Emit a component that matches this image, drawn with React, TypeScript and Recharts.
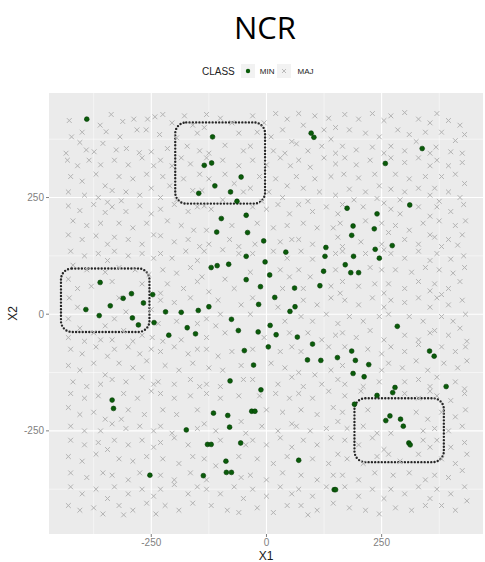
import React from 'react';
import {
  ScatterChart,
  Scatter,
  XAxis,
  YAxis,
  CartesianGrid,
  ReferenceArea,
} from 'recharts';

// ticks & grid
const X_TICKS = [-250, 0, 250];
const Y_TICKS = [-250, 0, 250];
const MINOR_BREAKS = [-375, -125, 125, 375];

// minority class (green dots), [X1, X2]
const MIN_POINTS: [number, number][] = [
  [-390, 418],
  [-117, 380], [-135, 319], [-119, 324], [-55, 294], [-112, 275], [-147, 259], [-78, 262], [-64, 242],
  [-98, 205], [-44, 212], [-108, 176], [-41, 175], [-44, 124], [-120, 100], [-107, 104], [-82, 107], [-44, 74],
  [-361, 68], [-293, 44], [-311, 34], [-247, 42],
  [97, 388], [103, 379], [338, 355], [258, 323], [311, 234], [175, 227], [240, 215], [188, 189], [234, 183], [185, 169],
  [-6, 157], [273, 147], [129, 143], [236, 139], [42, 133], [127, 124], [189, 124], [245, 120], [-3, 112], [171, 106],
  [183, 89], [200, 89], [124, 92], [7, 84], [-13, 59], [61, 56], [116, 61], [18, 36],
  [-392, 10], [-339, 18], [-267, 24], [-363, -3], [-291, -8], [-278, -23], [-244, -18], [-219, 5], [-185, 4], [-148, 8], [-125, 16],
  [-212, -45], [-172, -29], [-154, -42], [-76, -11], [-61, -35], [-48, -78], [-79, -143],
  [-335, -184], [-332, -202], [-115, -212], [-84, -217], [-80, -242], [-174, -248], [-128, -279], [-120, -279], [-56, -276],
  [-88, -315], [-87, -339], [-76, -339], [-137, -346], [-253, -345],
  [-17, 21], [62, 16], [51, 6], [8, -24], [284, -26], [-18, -38], [21, -44], [67, -49], [4, -70], [100, -64],
  [185, -79], [354, -79], [364, -90], [-28, -109], [89, -98], [118, -99], [154, -93], [193, -99], [222, -108],
  [188, -127], [212, -134], [-12, -162], [390, -155], [279, -157], [274, -168], [240, -174], [191, -193],
  [-32, -208], [-25, -208], [259, -228], [268, -218], [291, -225], [297, -240], [309, -276], [312, -280],
  [70, -313], [147, -376], [150, -376],
];

// majority class (grey crosses), [X1, X2]
const MAJ_POINTS: [number, number][] = [
  // y 340..435
  [-428, 415], [-400, 390], [-423, 380], [-405, 368], [-391, 352], [-374, 348], [-361, 405], [-348, 391], [-355, 366], [-435, 345],
  [-337, 428], [-312, 413], [-288, 418], [-258, 418], [-242, 423], [-281, 395], [-261, 395], [-326, 352], [-304, 355], [-276, 346], [-250, 348], [-318, 380],
  [-225, 428], [-205, 410], [-178, 425], [-160, 405], [-232, 385], [-195, 378], [-150, 388], [-215, 355], [-172, 360], [-145, 350],
  [-130, 428], [-100, 420], [-75, 410], [-135, 400], [-60, 388], [-90, 362], [-50, 350], [-125, 345],
  [-30, 425], [-5, 410], [20, 430], [45, 418], [-20, 390], [10, 380], [35, 395], [55, 370], [-35, 360], [15, 350], [40, 345],
  [70, 430], [105, 425], [135, 420], [150, 400], [80, 405], [125, 395], [65, 365], [90, 350], [120, 360], [150, 345], [140, 375],
  [170, 428], [200, 418], [230, 430], [255, 415], [180, 395], [215, 388], [245, 380], [165, 360], [195, 352], [230, 358], [255, 345],
  [270, 425], [300, 432], [330, 418], [355, 410], [285, 395], [310, 385], [345, 390], [270, 360], [300, 350], [325, 370], [355, 345],
  [370, 430], [395, 415], [420, 405], [380, 390], [410, 372], [430, 385], [368, 358], [400, 348], [425, 345],
  // y 240..340
  [-432, 330], [-410, 318], [-385, 330], [-360, 320], [-425, 295], [-400, 285], [-370, 300], [-350, 275], [-430, 262], [-395, 255], [-365, 250], [-345, 240],
  [-330, 330], [-300, 320], [-270, 335], [-245, 318], [-320, 295], [-290, 290], [-260, 300], [-335, 265], [-305, 262], [-275, 255], [-250, 270], [-315, 243],
  [-230, 330], [-205, 318], [-185, 335], [-165, 322], [-225, 295], [-210, 275], [-180, 290], [-160, 265], [-230, 250], [-195, 245], [-145, 300],
  [-130, 335], [-95, 330], [-60, 318], [-125, 290], [-90, 300], [-70, 280], [-140, 265], [-50, 262], [-95, 245],
  [-30, 330], [0, 320], [30, 335], [52, 318], [-15, 295], [20, 290], [45, 275], [-35, 270], [5, 262], [35, 250], [-10, 242],
  [70, 330], [95, 315], [125, 335], [150, 322], [65, 295], [105, 290], [140, 295], [80, 270], [115, 262], [150, 255], [90, 242],
  [170, 335], [195, 320], [225, 330], [168, 300], [200, 292], [235, 300], [180, 268], [215, 262], [245, 275], [190, 245], [240, 248],
  [270, 335], [300, 325], [330, 335], [355, 318], [280, 300], [310, 290], [345, 295], [270, 268], [300, 262], [330, 270], [355, 255], [290, 245],
  [370, 330], [395, 318], [425, 325], [380, 295], [410, 300], [430, 280], [365, 270], [395, 262], [420, 250], [375, 242],
  // y 140..240
  [-430, 232], [-405, 222], [-375, 235], [-350, 218], [-420, 200], [-390, 190], [-360, 195], [-430, 170], [-400, 160], [-370, 168], [-345, 150],
  [-335, 230], [-305, 220], [-275, 232], [-250, 215], [-320, 195], [-290, 185], [-260, 195], [-330, 165], [-300, 160], [-270, 150], [-245, 170],
  [-230, 225], [-200, 235], [-170, 220], [-150, 230], [-215, 200], [-185, 190], [-158, 180], [-230, 168], [-200, 155], [-170, 160], [-145, 145],
  [-135, 232], [-120, 225], [-75, 190], [-130, 180], [-80, 160], [-125, 150], [-60, 145],
  [-30, 230], [0, 225], [25, 235], [50, 215], [-20, 195], [15, 185], [45, 190], [30, 155], [-25, 150], [55, 160],
  [70, 235], [100, 220], [130, 230], [155, 215], [80, 195], [110, 185], [145, 185], [70, 160], [100, 150], [155, 165],
  [165, 235], [210, 230], [255, 238], [160, 195], [215, 200], [250, 195], [205, 155], [250, 150], [165, 145],
  [270, 225], [290, 215], [330, 230], [355, 210], [280, 190], [310, 180], [340, 195], [300, 160], [330, 150], [355, 170], [265, 175],
  [370, 230], [400, 220], [428, 235], [375, 200], [410, 190], [432, 200], [365, 165], [395, 160], [425, 170], [380, 145], [415, 148],
  // y 40..140
  [-425, 135], [-395, 125], [-365, 130], [-345, 115], [-420, 105], [-390, 95], [-430, 75], [-410, 55], [-380, 60], [-350, 90],
  [-330, 135], [-300, 125], [-270, 130], [-245, 120], [-320, 100], [-285, 95], [-255, 85], [-335, 70], [-270, 65],
  [-230, 130], [-205, 120], [-175, 135], [-150, 115], [-225, 95], [-195, 88], [-165, 100], [-215, 65], [-180, 55], [-150, 70], [-230, 45],
  [-135, 135], [-95, 138], [-60, 130], [-140, 80], [-90, 75], [-70, 55], [-125, 48],
  [-30, 130], [15, 135], [45, 120], [30, 95], [-35, 90], [50, 80], [35, 55],
  [75, 135], [100, 118], [150, 130], [70, 95], [95, 80], [150, 95], [80, 55], [140, 60], [160, 45],
  [165, 135], [215, 130], [255, 138], [225, 100], [250, 95], [165, 70], [200, 60], [235, 65], [255, 45],
  [270, 130], [300, 120], [330, 135], [355, 115], [280, 95], [315, 90], [345, 100], [265, 65], [300, 55], [330, 70], [355, 50],
  [370, 130], [400, 118], [428, 125], [375, 95], [405, 88], [430, 100], [365, 65], [395, 55], [420, 70], [380, 42],
  // y -60..40
  [-428, 35], [-410, 15], [-430, -10], [-405, -30], [-375, -40], [-350, -25], [-430, -50], [-395, -58], [-360, -55],
  [-320, 35], [-330, -10], [-305, 5], [-310, -35], [-270, -45], [-250, 10], [-335, -55], [-290, -58], [-248, -50],
  [-230, 30], [-200, 25], [-165, 35], [-235, -20], [-195, -15], [-150, -20], [-225, -58], [-185, -55],
  [-130, -10], [-105, 30], [-100, 0], [-90, -40], [-130, -50], [-110, -25], [-55, 20],
  [-35, 0], [25, 15], [40, -15], [-5, -50], [50, -40], [-30, 35],
  [80, 30], [110, 20], [140, 35], [75, -5], [100, -15], [130, 0], [155, -20], [90, -40], [120, -55], [150, -45],
  [170, 30], [200, 20], [230, 35], [255, 15], [180, -5], [210, -15], [245, -5], [165, -40], [195, -50], [225, -35], [255, -55],
  [270, 30], [300, 25], [330, 35], [355, 15], [265, 0], [310, -5], [340, -15], [300, -45], [330, -55], [355, -40],
  [370, 35], [395, 20], [425, 30], [380, -5], [405, -15], [432, 0], [365, -35], [395, -45], [420, -30], [435, -58],
  // y -160..-60
  [-425, -75], [-400, -85], [-370, -70], [-345, -90], [-430, -110], [-405, -120], [-375, -105], [-350, -130], [-420, -145], [-390, -155], [-360, -150],
  [-330, -75], [-300, -70], [-275, -85], [-250, -75], [-320, -105], [-290, -115], [-260, -100], [-335, -140], [-305, -145], [-270, -135], [-245, -150],
  [-230, -80], [-200, -70], [-170, -85], [-150, -75], [-220, -110], [-190, -120], [-160, -105], [-235, -145], [-200, -150], [-165, -140], [-145, -155],
  [-130, -75], [-105, -90], [-75, -80], [-125, -115], [-95, -120], [-55, -110], [-130, -150], [-100, -155], [-50, -140],
  [-30, -75], [30, -80], [55, -70], [10, -105], [40, -115], [-30, -140], [25, -150], [55, -135],
  [75, -80], [135, -70], [70, -125], [105, -130], [140, -120], [80, -155], [120, -150], [155, -140],
  [170, -70], [220, -75], [250, -85], [165, -110], [250, -120], [170, -150], [210, -155], [245, -145],
  [270, -70], [300, -80], [330, -65], [265, -105], [295, -115], [325, -100], [350, -120], [300, -145], [330, -140], [355, -155],
  [380, -70], [410, -80], [432, -70], [385, -105], [415, -115], [435, -100], [370, -135], [410, -145], [430, -160],
  // y -260..-160
  [-425, -170], [-395, -180], [-365, -175], [-430, -200], [-405, -215], [-375, -210], [-350, -225], [-425, -240], [-395, -250], [-360, -250],
  [-310, -170], [-280, -180], [-250, -165], [-300, -205], [-265, -215], [-335, -235], [-305, -245], [-275, -240], [-245, -250], [-315, -225],
  [-230, -170], [-200, -180], [-165, -175], [-225, -205], [-195, -215], [-150, -205], [-230, -240], [-205, -255], [-150, -245],
  [-130, -170], [-100, -180], [-60, -175], [-135, -235], [-110, -250], [-55, -230], [-45, -255],
  [-15, -175], [20, -170], [50, -180], [0, -205], [35, -210], [-10, -240], [25, -250], [55, -235],
  [70, -170], [100, -180], [135, -165], [75, -205], [110, -215], [145, -200], [65, -240], [95, -250], [130, -245], [155, -230],
  [170, -175], [205, -165], [165, -210], [220, -205], [175, -245], [210, -240], [240, -255],
  [300, -170], [330, -180], [355, -165], [325, -210], [350, -225], [270, -255], [340, -250],
  [370, -175], [400, -185], [430, -170], [380, -210], [410, -220], [432, -205], [365, -245], [395, -250], [425, -240],
  // y -360..-260
  [-425, -270], [-395, -280], [-365, -275], [-345, -290], [-430, -305], [-400, -315], [-370, -300], [-425, -340], [-390, -350], [-355, -340],
  [-330, -270], [-300, -280], [-270, -270], [-245, -285], [-320, -310], [-290, -315], [-260, -305], [-335, -345], [-300, -355], [-275, -340],
  [-230, -275], [-200, -265], [-170, -280], [-225, -310], [-190, -320], [-160, -305], [-230, -345], [-200, -355], [-165, -340],
  [-100, -270], [-135, -310], [-110, -325], [-60, -305], [-130, -355], [-55, -350], [-45, -280],
  [-30, -270], [0, -280], [30, -265], [55, -285], [-20, -310], [15, -320], [45, -305], [-35, -345], [0, -355], [35, -340],
  [80, -270], [110, -280], [140, -265], [100, -310], [135, -320], [155, -300], [75, -345], [110, -355], [145, -345],
  [170, -270], [200, -280], [230, -265], [255, -290], [175, -310], [210, -320], [240, -305], [165, -345], [200, -355], [235, -340],
  [265, -300], [290, -315], [330, -300], [355, -285], [275, -345], [310, -340], [345, -355], [340, -270],
  [370, -270], [400, -285], [430, -275], [380, -310], [410, -320], [435, -300], [365, -345], [395, -350], [425, -335],
  // y -430..-360
  [-425, -370], [-400, -385], [-370, -375], [-345, -395], [-430, -410], [-405, -420], [-375, -415], [-355, -428],
  [-330, -370], [-300, -385], [-270, -375], [-245, -390], [-320, -410], [-290, -420], [-260, -405], [-310, -430],
  [-230, -375], [-200, -365], [-170, -385], [-150, -370], [-220, -410], [-190, -420], [-160, -405], [-240, -428],
  [-130, -375], [-100, -385], [-70, -370], [-50, -395], [-120, -410], [-85, -420], [-60, -425],
  [-30, -375], [0, -390], [30, -370], [55, -385], [-20, -415], [15, -425], [45, -410],
  [70, -375], [100, -390], [130, -370], [75, -410], [110, -420], [145, -405], [90, -430],
  [170, -370], [200, -390], [230, -375], [255, -395], [180, -415], [215, -420], [245, -428],
  [270, -375], [300, -385], [330, -370], [355, -395], [280, -415], [315, -420], [345, -410],
  [370, -375], [400, -385], [430, -370], [380, -410], [410, -420], [435, -400],
];

// dotted boxes highlighting regions: [x1, x2, y1, y2]
const HIGHLIGHT_BOXES: [number, number, number, number][] = [
  [-198, -3, 237, 411],
  [-446, -254, -38, 98],
  [191, 385, -317, -180],
];

const minData = MIN_POINTS.map(([x, y]) => ({ x, y }));
const majData = MAJ_POINTS.map(([x, y]) => ({ x, y }));

const GREEN = '#0a5c0a';
const CROSS = '#b2b2b2';
const TICK_COLOR = '#7f7f7f';

const Dot = (props: any) => {
  const { cx, cy } = props;
  if (cx == null || cy == null) return null;
  return <circle cx={cx} cy={cy} r={2.4} fill={GREEN} stroke="#043a04" strokeWidth={0.6} />;
};

const Cross = (props: any) => {
  const { cx, cy } = props;
  if (cx == null || cy == null) return null;
  const s = 2.4;
  return (
    <g stroke={CROSS} strokeWidth={1}>
      <line x1={cx - s} y1={cy - s} x2={cx + s} y2={cy + s} />
      <line x1={cx - s} y1={cy + s} x2={cx + s} y2={cy - s} />
    </g>
  );
};

const DottedBox = (props: any) => {
  const { x, y, width, height } = props;
  return (
    <rect
      x={x}
      y={y}
      width={width}
      height={height}
      rx={11}
      ry={11}
      fill="none"
      stroke="#262626"
      strokeWidth={2.4}
      strokeDasharray="0 3.3"
      strokeLinecap="round"
    />
  );
};

const YLabel = (props: any) => {
  const { viewBox } = props;
  const cx = 13;
  const cy = viewBox.y + viewBox.height / 2;
  return (
    <text
      x={cx}
      y={cy}
      transform={`rotate(-90, ${cx}, ${cy})`}
      textAnchor="middle"
      dominantBaseline="central"
      fontSize={12}
      fill="#1a1a1a"
    >
      X2
    </text>
  );
};

const XLabel = (props: any) => {
  const { viewBox } = props;
  const cx = viewBox.x + viewBox.width / 2;
  return (
    <text x={cx} y={560} textAnchor="middle" fontSize={12} fill="#1a1a1a">
      X1
    </text>
  );
};

const Legend = () => (
  <div
    style={{
      position: 'absolute',
      top: 64,
      left: 202,
      height: 14,
      display: 'flex',
      alignItems: 'center',
      fontFamily: '"Liberation Sans", Arial, sans-serif',
      color: '#222',
    }}
  >
    <span style={{ fontSize: 10, marginRight: 6 }}>CLASS</span>
    <svg width={14} height={14} style={{ background: '#f2f2f2' }}>
      <circle cx={7} cy={7} r={2.2} fill={GREEN} />
    </svg>
    <span style={{ fontSize: 8, margin: '0 3px 0 5px' }}>MIN</span>
    <svg width={14} height={14} style={{ background: '#f2f2f2' }}>
      <g stroke={CROSS} strokeWidth={0.9}>
        <line x1={5} y1={5} x2={9} y2={9} />
        <line x1={5} y1={9} x2={9} y2={5} />
      </g>
    </svg>
    <span style={{ fontSize: 8, marginLeft: 6 }}>MAJ</span>
  </div>
);

export default function App() {
  return (
    <div style={{ position: 'absolute', left: 0, top: 0, width: 485, height: 562, background: '#fff' }}>
      <div
        style={{
          position: 'absolute',
          top: 6,
          left: 0,
          width: 530,
          textAlign: 'center',
          fontFamily: '"Open Sans", sans-serif',
          fontSize: 31,
          color: '#000',
        }}
      >
        NCR
      </div>
      <Legend />
      <ScatterChart
        width={485}
        height={562}
        margin={{ top: 93, right: 2, bottom: 0, left: 0 }}
        style={{ fontFamily: '"Liberation Sans", Arial, sans-serif' }}
      >
        <CartesianGrid
          fill="#ebebeb"
          stroke="#ffffff"
          strokeWidth={0.5}
          verticalValues={MINOR_BREAKS}
          horizontalValues={MINOR_BREAKS}
        />
        <CartesianGrid
          stroke="#ffffff"
          strokeWidth={1.1}
          verticalValues={X_TICKS}
          horizontalValues={Y_TICKS}
        />
        <XAxis
          type="number"
          dataKey="x"
          domain={[-472, 470]}
          ticks={X_TICKS}
          allowDataOverflow
          height={28}
          tickSize={3}
          axisLine={false}
          tickLine={{ stroke: TICK_COLOR }}
          tick={{ fill: TICK_COLOR, fontSize: 10 }}
          label={<XLabel />}
        />
        <YAxis
          type="number"
          dataKey="y"
          domain={[-471, 474]}
          ticks={Y_TICKS}
          allowDataOverflow
          width={49}
          tickSize={3}
          axisLine={false}
          tickLine={{ stroke: TICK_COLOR }}
          tick={{ fill: TICK_COLOR, fontSize: 10 }}
          label={<YLabel />}
        />
        <Scatter name="MAJ" data={majData} shape={<Cross />} isAnimationActive={false} />
        <Scatter name="MIN" data={minData} shape={<Dot />} isAnimationActive={false} />
        {HIGHLIGHT_BOXES.map(([x1, x2, y1, y2], i) => (
          <ReferenceArea key={i} x1={x1} x2={x2} y1={y1} y2={y2} shape={<DottedBox />} />
        ))}
      </ScatterChart>
    </div>
  );
}
